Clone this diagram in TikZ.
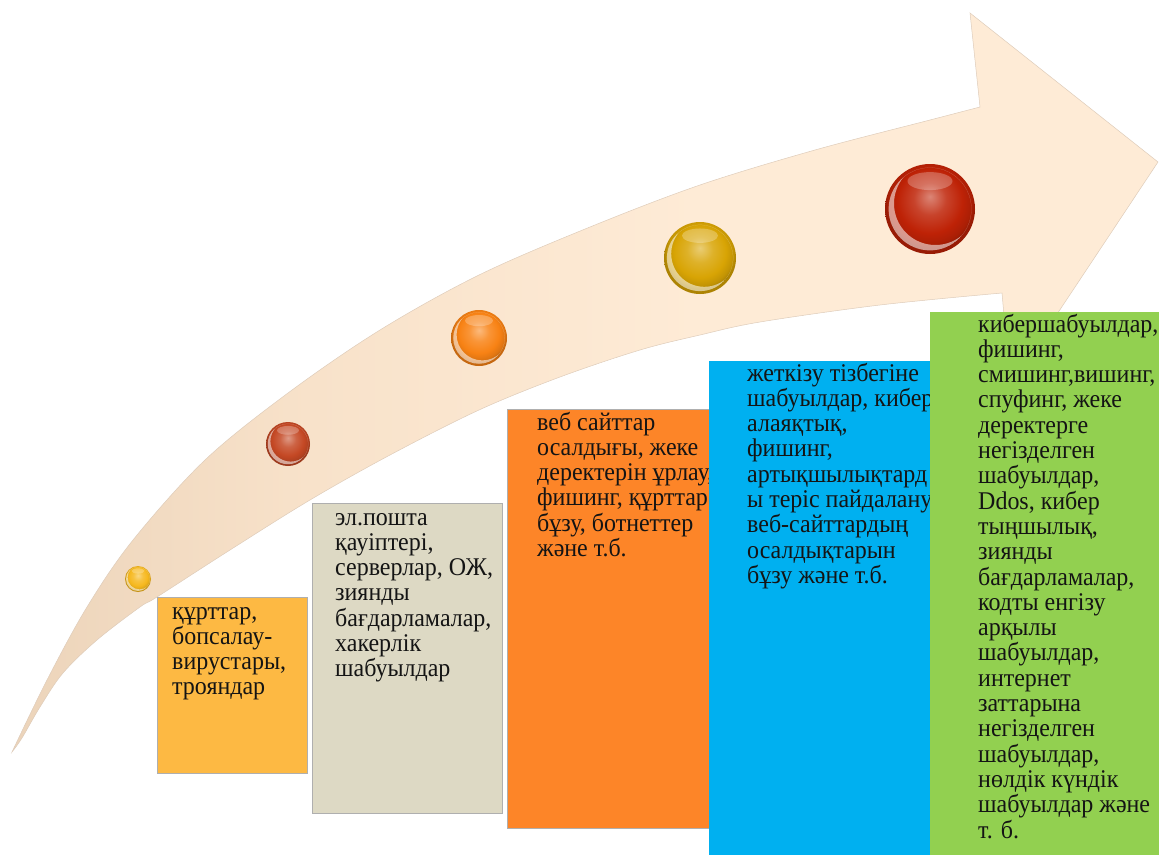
\documentclass[tikz,border=0pt]{standalone}
\usepackage{fontspec}
\setmainfont{Liberation Serif}
\newfontfamily\boxfont{Liberation Serif}[FakeStretch=0.94]
\usetikzlibrary{calc}

\definecolor{arrowA}{RGB}{236,212,186}
\definecolor{arrowB}{RGB}{248,226,202}
\definecolor{arrowC}{RGB}{254,235,214}
\definecolor{arrowEdge}{RGB}{222,204,186}
\definecolor{boxLine}{RGB}{175,175,175}
\definecolor{boxYellow}{RGB}{253,185,67}
\definecolor{boxBeige}{RGB}{221,217,196}
\definecolor{boxOrange}{RGB}{253,133,40}
\definecolor{boxBlue}{RGB}{0,176,240}
\definecolor{boxGreen}{RGB}{146,208,80}
\definecolor{ballGold}{RGB}{246,184,30}
\definecolor{ballBrown}{RGB}{196,72,36}
\definecolor{ballOrange}{RGB}{248,130,20}
\definecolor{ballMustard}{RGB}{216,164,4}
\definecolor{ballRed}{RGB}{190,34,6}
\colorlet{ballcol}{ballRed}

% soft fade of the arrow body from the tail to the head
\pgfdeclarehorizontalshading{arrowfade}{100bp}{color(0bp)=(arrowA);
  color(25bp)=(arrowA); color(38bp)=(arrowB); color(55bp)=(arrowC);
  color(100bp)=(arrowC)}

% sphere body: light top, saturated middle, slightly darker rim
\pgfdeclareradialshading[ballcol]{gloss}{\pgfpoint{0bp}{7bp}}{%
  color(0bp)=(ballcol!55!white); color(9bp)=(ballcol!85!white);
  color(18bp)=(ballcol); color(23bp)=(ballcol!90!black);
  color(25bp)=(ballcol!80!black); color(50bp)=(ballcol!80!black)}

% glossy sphere: centre x, centre y, radius, colour
\newcommand\glossball[4]{%
  \colorlet{ballcol}{#4}%
  \shade[shading=gloss] (#1,#2) circle (#3);
  \begin{scope}
    \clip (#1,#2) circle (#3*0.92);
    \fill[white, opacity=0.55, even odd rule]
      (#1,#2) circle (#3*0.92) (#1+#3*0.12,#2-#3*0.12) circle (#3*0.92);
  \end{scope}
  \fill[white, opacity=0.25] (#1,#2-#3*0.62) ellipse ({#3*0.5} and {#3*0.2});}

\begin{document}
\begin{tikzpicture}[x=1pt, y=-1pt,
  tile/.style={rectangle, anchor=north west, inner sep=0pt, outer sep=0pt},
  framed/.style={draw=boxLine, line width=0.6pt},
  txt/.style={anchor=base west, inner sep=0pt, text=black!92,
    font=\boxfont\fontsize{25.5}{25.3}\selectfont}]
\useasboundingbox (0,0) rectangle (1159,854);

% curved arrow, tail at the lower left, head at the upper right
\shade[shading=arrowfade, draw=arrowEdge, line width=0.5pt]
  plot[smooth, tension=0.55] coordinates {
    (12,752) (47,680) (87,607) (133,540) (205,460) (288,393) (380,330)
    (479,275) (590,227) (700,185) (815,150) (930,120) (980,107)}
  -- (970,13) -- (1158,162) -- (1010,385)
  -- plot[smooth, tension=0.55] coordinates {
    (1002,293) (880,305) (760,322) (700,335) (640,350) (560,377)
    (479,410) (390,455) (310,500) (230,550) (157,597) (140,607)
    (97,640) (63,673) (40,707) (22,738) (12,752)}
  -- cycle;

% spheres along the arrow
\glossball{138}{579}{13}{ballGold}
\glossball{288}{444}{22}{ballBrown}
\glossball{479}{338}{28}{ballOrange}
\glossball{700}{258}{36}{ballMustard}
\glossball{930}{209}{45}{ballRed}

% step 1
\node[tile, framed, fill=boxYellow, minimum width=150pt, minimum height=176pt]
  (b1) at (157,597) {};
\node[txt] (t1) at ($(b1.north west)+(15,22)$) {\parbox[t]{300pt}{\raggedright
  құрттар,\\ бопсалау-\\ вирустары,\\ трояндар}};

% step 2
\node[tile, framed, fill=boxBeige, minimum width=190pt, minimum height=310pt]
  (b2) at (312,503) {};
\node[txt] (t2) at ($(b2.north west)+(23,22)$) {\parbox[t]{300pt}{\raggedright
  эл.пошта\\ қауіптері,\\ серверлар, ОЖ,\\ зиянды\\ бағдарламалар,\\ хакерлік\\ шабуылдар}};

% step 3
\node[tile, framed, fill=boxOrange, minimum width=205pt, minimum height=419pt]
  (b3) at (507,409) {};
\node[txt] (t3) at ($(b3.north west)+(30,21)$) {\parbox[t]{300pt}{\raggedright
  веб сайттар\\ осалдығы, жеке\\ деректерін ұрлау,\\ фишинг, құрттар\\ бұзу, ботнеттер\\ және т.б.}};

% step 4
\node[tile, fill=boxBlue, minimum width=223pt, minimum height=500pt]
  (b4) at (709,361) {};
\node[txt] (t4) at ($(b4.north west)+(38,20)$) {\parbox[t]{300pt}{\raggedright
  жеткізу тізбегіне\\ шабуылдар, кибер\\ алаяқтық,\\ фишинг,\\ артықшылықтард\\
  ы теріс пайдалану,\\ веб-сайттардың\\ осалдықтарын\\ бұзу және т.б.}};

% step 5
\node[tile, fill=boxGreen, minimum width=229pt, minimum height=545pt]
  (b5) at (930,312) {};
\node[txt] (t5) at ($(b5.north west)+(48,20)$) {\parbox[t]{300pt}{\raggedright
  кибершабуылдар,\\ фишинг,\\ смишинг,вишинг,\\ спуфинг, жеке\\ деректерге\\
  негізделген\\ шабуылдар,\\ Ddos, кибер\\ тыңшылық,\\ зиянды\\ бағдарламалар,\\
  кодты енгізу\\ арқылы\\ шабуылдар,\\ интернет\\ заттарына\\ негізделген\\
  шабуылдар,\\ нөлдік күндік\\ шабуылдар және\\ т. б.}};
\end{tikzpicture}
\end{document}
